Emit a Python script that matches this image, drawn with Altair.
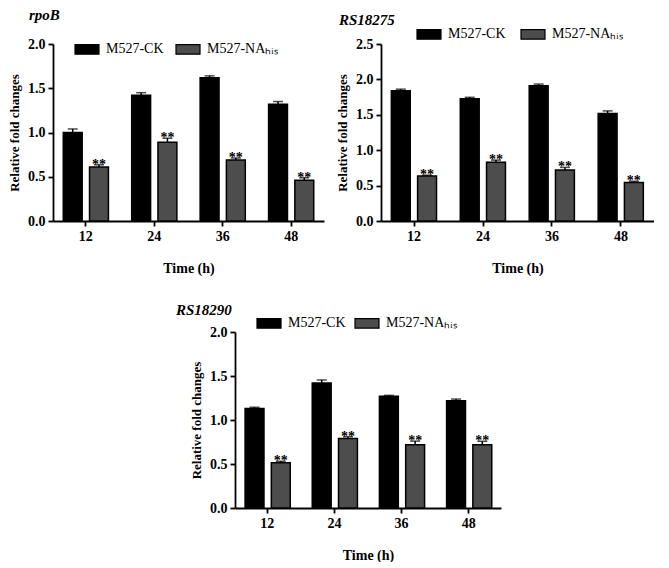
import altair as alt
import pandas as pd

times = ["12", "24", "36", "48"]
groups = ["M527-CK", "M527-NA\u2095\u1d62\u209b"]

# rpoB
rpob_ck = [1.00, 1.42, 1.62, 1.32]
rpob_ck_err = [0.04, 0.03, 0.02, 0.03]
rpob_na = [0.61, 0.89, 0.69, 0.46]
rpob_na_err = [0.025, 0.045, 0.022, 0.03]

# RS18275
rs75_ck = [1.84, 1.725, 1.91, 1.52]
rs75_ck_err = [0.022, 0.022, 0.024, 0.035]
rs75_na = [0.635, 0.83, 0.72, 0.545]
rs75_na_err = [0.012, 0.03, 0.037, 0.018]

# RS18290
rs90_ck = [1.13, 1.42, 1.27, 1.22]
rs90_ck_err = [0.015, 0.035, 0.01, 0.018]
rs90_na = [0.515, 0.79, 0.72, 0.72]
rs90_na_err = [0.016, 0.02, 0.04, 0.038]

FONT = "Liberation Serif"


def make_df(ck, ck_err, na, na_err):
    rows = []
    for i, t in enumerate(times):
        rows.append({"time": t, "group": groups[0], "value": ck[i], "err": ck_err[i],
                     "top": ck[i] + ck_err[i], "star": ""})
        rows.append({"time": t, "group": groups[1], "value": na[i], "err": na_err[i],
                     "top": na[i] + na_err[i], "star": "**"})
    return pd.DataFrame(rows)


def panel(name, ck, ck_err, na, na_err, ymax, width, height, lx, ly, colpad, tdx, toff):
    df = make_df(ck, ck_err, na, na_err)
    ticks = [round(0.5 * k, 1) for k in range(int(round(ymax / 0.5)) + 1)]
    x = alt.X("time:N", sort=times,
              scale=alt.Scale(paddingInner=0.34, paddingOuter=0.15),
              axis=alt.Axis(title="Time (h)", labelAngle=0, titlePadding=18,
                            labelPadding=3))
    xo = alt.XOffset("group:N", sort=groups,
                     scale=alt.Scale(paddingInner=0.28, paddingOuter=0))
    yscale = alt.Scale(domain=[0, ymax], nice=False, zero=True)
    yaxis = alt.Axis(title="Relative fold changes", values=ticks, format=".1f",
                     titlePadding=6, labelPadding=3, labelOverlap=False)
    base = alt.Chart(df)
    bars = base.mark_bar(stroke="black", strokeWidth=1.5).encode(
        x=x, xOffset=xo,
        y=alt.Y("value:Q", scale=yscale, axis=yaxis),
        color=alt.Color("group:N", sort=groups,
                        scale=alt.Scale(domain=groups, range=["#000000", "#4d4d4d"]),
                        legend=alt.Legend(title=None, orient="none", direction="horizontal",
                                          legendX=lx, legendY=ly,
                                          symbolType="M-1,-0.4H1V0.4H-1Z",
                                          symbolSize=576, symbolStrokeColor="black",
                                          symbolStrokeWidth=1.2, symbolOpacity=1,
                                          labelFont=FONT, labelFontSize=14,
                                          labelColor="black", labelOffset=6,
                                          columnPadding=colpad)),
    )
    err = base.mark_rule(color="black", strokeWidth=1.5).encode(
        x=x, xOffset=xo, y=alt.Y("value:Q", scale=yscale, axis=yaxis), y2="top:Q")
    cap = base.mark_tick(color="black", thickness=1.5, size=10).encode(
        x=x, xOffset=xo, y=alt.Y("top:Q", scale=yscale, axis=yaxis))
    stars = base.mark_text(font=FONT, fontWeight="bold", fontSize=14, dy=4,
                           baseline="alphabetic", color="black").encode(
        x=x, xOffset=xo, y=alt.Y("top:Q", scale=yscale, axis=yaxis), text="star:N")
    return alt.layer(bars, err, cap, stars).properties(
        width=width, height=height,
        title=alt.TitleParams(name, anchor="start", frame="group", dx=tdx,
                              font=FONT, fontSize=15, fontStyle="italic",
                              fontWeight="bold", color="black", offset=toff),
    )


a = panel("rpoB", rpob_ck, rpob_ck_err, rpob_na, rpob_na_err, 2.0, 271, 177, 21, -8, 9, -24, 13)
b = panel("RS18275", rs75_ck, rs75_ck_err, rs75_na, rs75_na_err, 2.5, 273, 177, 35, -23, 12, -42, -7)
c = panel("RS18290", rs90_ck, rs90_ck_err, rs90_na, rs90_na_err, 2.0, 266, 176, 21, -22, 6, -59, -8)

spacer = alt.Chart(pd.DataFrame({"v": [0]})).mark_point(opacity=0).encode(
    x=alt.value(0), y=alt.value(0)
).properties(width=123, height=10)

top = alt.hconcat(a, b, spacing=12).resolve_scale(color="independent", y="independent")
bottom = alt.hconcat(spacer, c, spacing=0).resolve_scale(color="independent", y="independent")
chart = alt.vconcat(top, bottom, spacing=28).resolve_scale(
    color="independent", y="independent"
).configure_view(
    stroke=None
).configure_axis(
    domainColor="black", domainWidth=1.8, tickColor="black", tickWidth=1.8, tickSize=5,
    grid=False, labelFont=FONT, labelFontSize=14, labelFontWeight="bold",
    labelColor="black", titleFont=FONT, titleFontSize=13, titleFontWeight="bold",
    titleColor="black",
).configure_axisX(titleFontSize=14).properties(padding=0, background="white")

chart.save("out.html", embed_options={"renderer": "svg", "actions": False})
